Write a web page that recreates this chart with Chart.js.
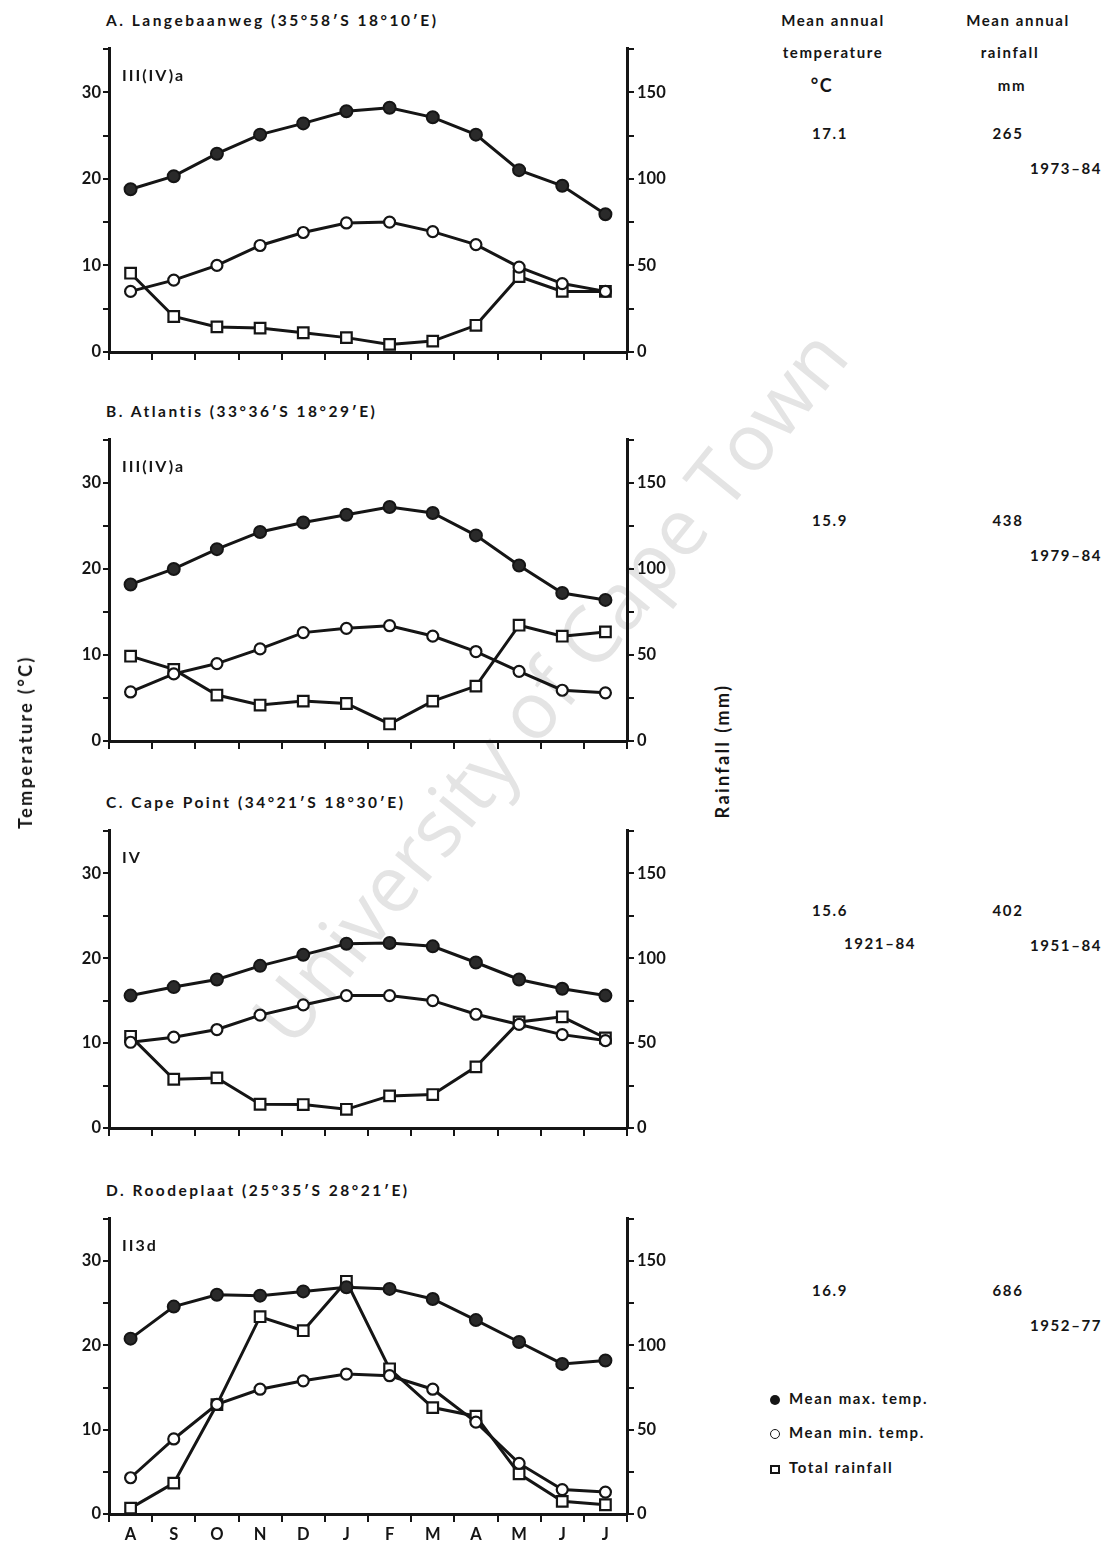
<!DOCTYPE html>
<html>
<head>
<meta charset="utf-8">
<script src="https://cdn.jsdelivr.net/npm/chart.js@4.4.1/dist/chart.umd.min.js"></script>
<style>
  body { margin: 0; background: #fff; }
  #page { position: relative; width: 1116px; height: 1545px; overflow: hidden;
          font-family: Lato, "DejaVu Sans", sans-serif; color: #151515; }
  canvas { position: absolute; left: 0; }
  .txt { position: absolute; white-space: nowrap; transform: translate(-50%, -50%);
         font-size: 15px; letter-spacing: 1.6px; font-weight: bold; }
  .left { transform: translate(0, -50%); }
  .title { font-size: 15.5px; letter-spacing: 2.5px; }
  .code { font-size: 16px; letter-spacing: 2px; }
  .axt { font-size: 18px; letter-spacing: 2.4px; transform: translate(-50%, -50%) rotate(-90deg); }
  .wm { position: absolute; left: 548px; top: 685px; transform: translate(-50%, -50%) rotate(-51deg);
        font-family: "Open Sans", sans-serif; font-size: 79px; color: #e4e4e4; white-space: nowrap; }
  .sym { display: inline-block; vertical-align: middle; margin-right: 9px; box-sizing: border-box; }
</style>
</head>
<body>
<div id="page">
  <div class="wm">University of Cape Town</div>
</div>
<script>
const months = ["A", "S", "O", "N", "D", "J", "F", "M", "A", "M", "J", "J"];

const titles = [
  "A. Langebaanweg (35°58′S  18°10′E)",
  "B. Atlantis (33°36′S  18°29′E)",
  "C. Cape Point  (34°21′S  18°30′E)",
  "D. Roodeplaat (25°35′S  28°21′E)"
];
const codes = ["III(IV)a", "III(IV)a", "IV", "II3d"];

// mean max temp (°C)
const maxA = [18.8, 20.3, 22.9, 25.1, 26.4, 27.8, 28.2, 27.1, 25.1, 21.0, 19.2, 15.9];
const maxB = [18.2, 20.0, 22.3, 24.3, 25.4, 26.3, 27.2, 26.5, 23.9, 20.4, 17.2, 16.4];
const maxC = [15.6, 16.6, 17.5, 19.1, 20.4, 21.7, 21.8, 21.4, 19.5, 17.5, 16.4, 15.6];
const maxD = [20.8, 24.6, 26.0, 25.9, 26.4, 26.9, 26.7, 25.5, 23.0, 20.4, 17.8, 18.2];

// mean min temp (°C)
const minA = [7.0, 8.3, 10.0, 12.3, 13.8, 14.9, 15.0, 13.9, 12.4, 9.8, 7.9, 7.0];
const minB = [5.7, 7.8, 9.0, 10.7, 12.6, 13.1, 13.4, 12.2, 10.4, 8.1, 5.9, 5.6];
const minC = [10.1, 10.7, 11.6, 13.3, 14.5, 15.6, 15.6, 15.0, 13.4, 12.2, 11.0, 10.3];
const minD = [4.3, 8.9, 13.0, 14.8, 15.8, 16.6, 16.4, 14.8, 10.9, 6.0, 2.9, 2.6];

// total rainfall (mm)
const rainA = [45.5, 20.5, 14.5, 13.8, 11.1, 8.3, 4.4, 6.3, 15.4, 43.6, 35.0, 35.0];
const rainB = [49.3, 41.6, 26.7, 20.9, 23.2, 21.8, 9.9, 23.2, 31.9, 67.3, 60.9, 63.4];
const rainC = [54.0, 28.7, 29.5, 14.0, 13.8, 11.0, 18.9, 19.7, 36.0, 62.5, 65.5, 53.0];
const rainD = [3.5, 18.3, 64.9, 117.0, 108.7, 138.0, 86.1, 63.1, 58.0, 23.8, 7.5, 5.5];

const tempTicks = [0, 10, 20, 30];
const rainTicks = [0, 50, 100, 150];

const meanTemp = ["17.1", "15.9", "15.6", "16.9"];
const meanRain = ["265", "438", "402", "686"];
const tempPeriod = ["", "", "1921–84", ""];
const rainPeriod = ["1973–84", "1979–84", "1951–84", "1952–77"];

const maxSeries = [maxA, maxB, maxC, maxD];
const minSeries = [minA, minB, minC, minD];
const rainSeries = [rainA, rainB, rainC, rainD];

// pixel rows of the 35 °C and 0 °C lines for each panel
const plotTop = [48, 439, 830, 1218];
const plotBottom = [352, 741, 1128, 1514];
const tableY = [133, 520, 910, 1290];

const ink = "#151515";
const page = document.getElementById("page");

function addText(text, x, y, cls, extra) {
  const d = document.createElement("div");
  d.className = "txt " + (cls || "");
  d.style.left = x + "px";
  d.style.top = y + "px";
  if (extra) d.style.cssText += extra;
  d.innerHTML = text;
  page.appendChild(d);
  return d;
}

function makePanel(i) {
  const padTop = 12, xh = 40;
  const c = document.createElement("canvas");
  const h = plotBottom[i] - plotTop[i] + padTop + xh;
  c.width = 700;
  c.height = h;
  c.style.top = (plotTop[i] - padTop) + "px";
  page.appendChild(c);

  const tickFont = { family: "Lato, 'DejaVu Sans', sans-serif", size: 16.5, weight: "bold" };

  new Chart(c, {
    type: "line",
    data: {
      labels: months,
      datasets: [
        {
          label: "Mean max. temp.", data: maxSeries[i], yAxisID: "y",
          borderColor: ink, borderWidth: 3, tension: 0,
          pointStyle: "circle", pointRadius: 6, pointBackgroundColor: "#2a2a2a",
          pointBorderColor: ink, pointBorderWidth: 2
        },
        {
          label: "Mean min. temp.", data: minSeries[i], yAxisID: "y",
          borderColor: ink, borderWidth: 3, tension: 0,
          pointStyle: "circle", pointRadius: 5.5, pointBackgroundColor: "#fff",
          pointBorderColor: ink, pointBorderWidth: 2.2
        },
        {
          label: "Total rainfall", data: rainSeries[i], yAxisID: "y1",
          borderColor: ink, borderWidth: 3, tension: 0,
          pointStyle: "rect", pointRadius: 7.5, pointBackgroundColor: "#fff",
          pointBorderColor: ink, pointBorderWidth: 2.2
        }
      ]
    },
    options: {
      responsive: false,
      animation: false,
      devicePixelRatio: 1,
      layout: { padding: { top: padTop, left: 0, right: 0, bottom: 0 } },
      plugins: { legend: { display: false }, tooltip: { enabled: false } },
      scales: {
        x: {
          offset: true,
          grid: { offset: true, drawOnChartArea: false, tickLength: 8, color: ink, lineWidth: 2 },
          border: { display: true, color: ink, width: 3 },
          ticks: { display: i === 3, color: ink, font: tickFont, padding: 3, autoSkip: false, maxRotation: 0 },
          afterFit: (s) => { s.height = xh; }
        },
        y: {
          position: "left", min: 0, max: 35,
          grid: { drawOnChartArea: false, tickLength: 6, color: ink, lineWidth: 2 },
          border: { display: true, color: ink, width: 3 },
          ticks: {
            stepSize: 5, color: ink, font: tickFont, padding: 2,
            callback: (v) => (tempTicks.includes(v) ? v : "")
          },
          afterFit: (s) => { s.width = 109; }
        },
        y1: {
          position: "right", min: 0, max: 175,
          grid: { drawOnChartArea: false, tickLength: 7, color: ink, lineWidth: 2 },
          border: { display: true, color: ink, width: 3 },
          ticks: {
            stepSize: 25, color: ink, font: tickFont, padding: 3,
            callback: (v) => (rainTicks.includes(v) ? v : "")
          },
          afterFit: (s) => { s.width = 73; }
        }
      }
    }
  });

  addText(titles[i], 106, plotTop[i] - 28, "left title");
  addText(codes[i], 122, plotTop[i] + 26, "left code");

  addText(meanTemp[i], 830, tableY[i]);
  addText(meanRain[i], 1008, tableY[i]);
  if (tempPeriod[i]) addText(tempPeriod[i], 880, tableY[i] + 33);
  addText(rainPeriod[i], 1066, tableY[i] + 35);
}

for (let i = 0; i < 4; i++) makePanel(i);

// column headings
addText("Mean annual", 833, 20);
addText("temperature", 833, 52);
addText("°C", 822, 85, "", "font-size:18px;");
addText("Mean annual", 1018, 20);
addText("rainfall", 1010, 52);
addText("mm", 1012, 85);

// axis titles
addText("Temperature (°C)", 25, 742, "axt");
addText("Rainfall (mm)", 722, 751, "axt");

// legend
addText('<span class="sym" style="width:10px;height:10px;border-radius:50%;background:' + ink + ';"></span>Mean max. temp.', 770, 1398, "left");
addText('<span class="sym" style="width:10px;height:10px;border-radius:50%;border:1.8px solid ' + ink + ';"></span>Mean min. temp.', 770, 1432, "left");
addText('<span class="sym" style="width:10px;height:9px;border:2px solid ' + ink + ';"></span>Total rainfall', 770, 1467, "left");
</script>
</body>
</html>
